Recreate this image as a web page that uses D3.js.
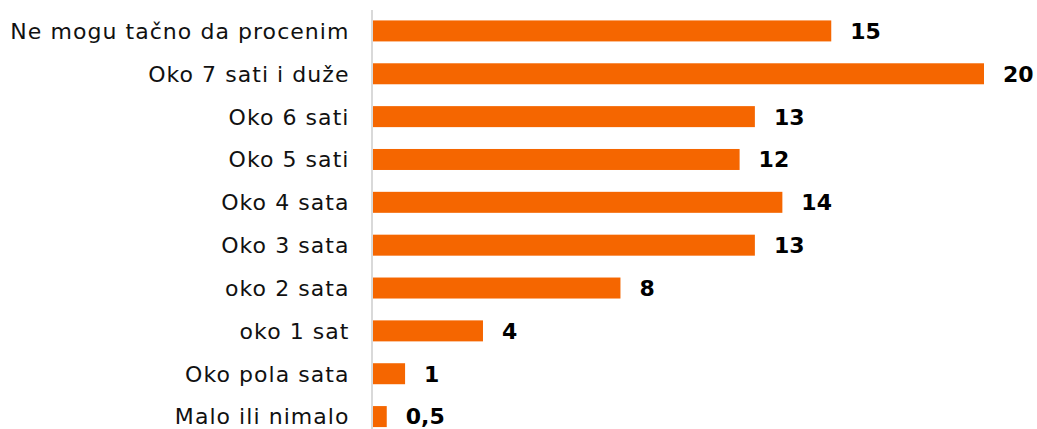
<!DOCTYPE html>
<html>
<head>
<meta charset="utf-8">
<script src="https://cdn.jsdelivr.net/npm/d3@7"></script>
<style>
  body { margin: 0; background: #fff; }
  svg { display: block; }
</style>
</head>
<body>
<svg id="viz"></svg>
<script>
const categories = [
  "Ne mogu tačno da procenim",
  "Oko 7 sati i duže",
  "Oko 6 sati",
  "Oko 5 sati",
  "Oko 4 sata",
  "Oko 3 sata",
  "oko 2 sata",
  "oko 1 sat",
  "Oko pola sata",
  "Malo ili nimalo"
];
const values = [15, 20, 12.5, 12, 13.4, 12.5, 8.1, 3.6, 1.05, 0.45];
const valueLabels = ["15", "20", "13", "12", "14", "13", "8", "4", "1", "0,5"];

const width = 1037;
const height = 429;
const left = 373;
const right = 984;

const svg = d3.select("#viz")
  .attr("width", width)
  .attr("height", height);

const x = d3.scaleLinear().domain([0, 20]).range([left, right]);

const y = d3.scaleBand()
  .domain(categories)
  .range([9.5, 438])
  .paddingInner(0.51)
  .paddingOuter(0.255);

// --- axis line ---
svg.append("line")
  .attr("x1", 372).attr("x2", 372)
  .attr("y1", 10).attr("y2", height)
  .attr("stroke", "#d9d9d9")
  .attr("stroke-width", 2);

// --- bars ---
svg.append("g")
  .selectAll("rect")
  .data(values)
  .join("rect")
  .attr("x", left)
  .attr("y", (d, i) => y(categories[i]))
  .attr("width", d => x(d) - left)
  .attr("height", y.bandwidth())
  .attr("fill", "#f56600");

// --- category labels ---
svg.append("g")
  .selectAll("text")
  .data(categories)
  .join("text")
  .attr("x", 349.5)
  .attr("y", d => y(d) + y.bandwidth() / 2)
  .attr("dy", "0.36em")
  .attr("text-anchor", "end")
  .attr("font-family", "DejaVu Sans, Verdana, sans-serif")
  .attr("font-size", "22px")
  .attr("letter-spacing", "1.05px")
  .attr("fill", "#111")
  .text(d => d);

// --- value labels ---
svg.append("g")
  .selectAll("text")
  .data(values)
  .join("text")
  .attr("x", d => x(d) + 19)
  .attr("y", (d, i) => y(categories[i]) + y.bandwidth() / 2)
  .attr("dy", "0.36em")
  .attr("font-family", "DejaVu Sans, Verdana, sans-serif")
  .attr("font-weight", "bold")
  .attr("font-size", "22px")
  .attr("fill", "#000")
  .text((d, i) => valueLabels[i]);
</script>
</body>
</html>
